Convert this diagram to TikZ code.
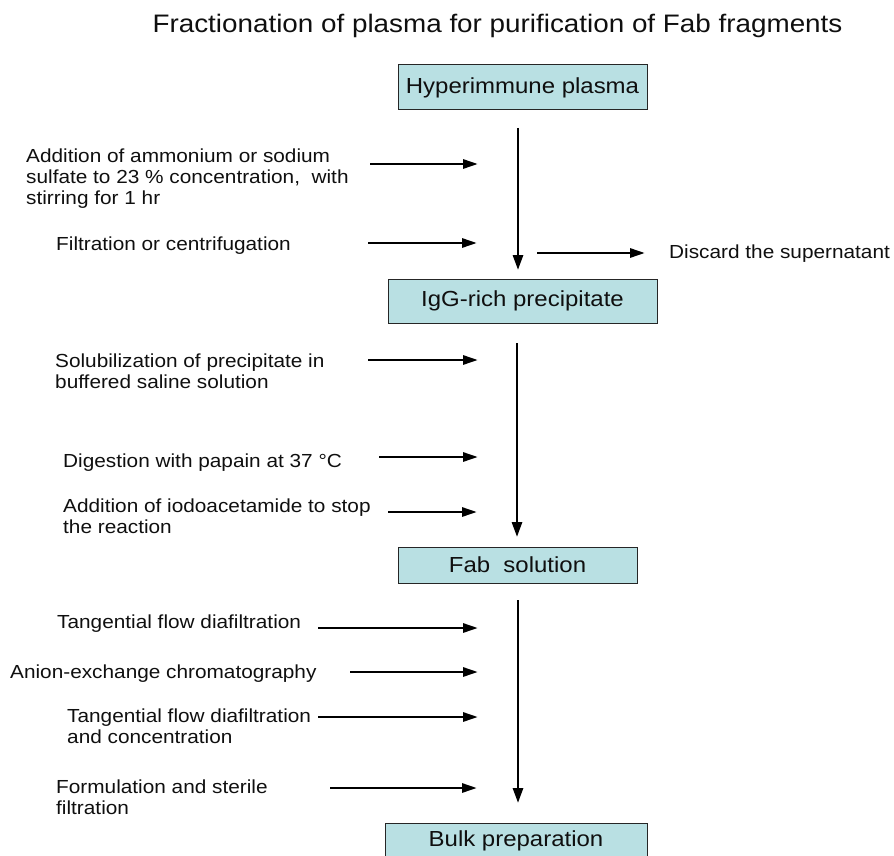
\documentclass[tikz,border=0pt]{standalone}
\usepackage{fontspec}
\setmainfont{Liberation Sans}[FakeStretch=1.1]
\usetikzlibrary{arrows.meta}
\definecolor{boxfill}{RGB}{185,224,227}
\definecolor{txt}{RGB}{15,15,15}
\newcommand{\mlines}[1]{\begin{tabular}[t]{@{}l@{}}#1\end{tabular}}
\begin{document}
\begin{tikzpicture}[x=1pt,y=-1pt,
  box/.style={draw=black!85, line width=1pt, fill=boxfill, inner sep=0pt,
    font=\fontsize{21.8}{24}\selectfont, text=txt},
  lbl/.style={anchor=base west, inner sep=0pt, text=txt,
    font=\fontsize{18.9}{21.5}\selectfont},
  ttl/.style={anchor=base, inner sep=0pt, text=txt,
    font=\fontsize{25.3}{28}\selectfont},
  flow/.style={line width=2.8pt, -{Triangle[length=15pt,width=10pt]}},
  side/.style={line width=2.8pt, -{Triangle[length=15pt,width=9pt]}}]
\useasboundingbox (0,0) rectangle (894,856);
\clip (0,0) rectangle (894,856);

\node[ttl] (title) at (497.5,33) {Fractionation of plasma for purification of Fab fragments};

% boxes
\node[box, minimum width=249, minimum height=45] (b1) at (522.5,87.5) {Hyperimmune plasma};
\node[box, minimum width=269, minimum height=44] (b2) at (522.5,301) {IgG-rich precipitate};
\node[box, minimum width=239, minimum height=36] (b3) at (517.5,565) {Fab\ \ solution};
\node[box, minimum width=262, minimum height=36] (b4) at (516,841) {Bulk preparation};

% main vertical arrows
\coordinate (v1s) at (518,128); \coordinate (v1e) at (518,270);
\coordinate (v2s) at (517,343); \coordinate (v2e) at (517,537);
\coordinate (v3s) at (518,600); \coordinate (v3e) at (518,803);
\draw[flow] (v1s) -- (v1e);
\draw[flow] (v2s) -- (v2e);
\draw[flow] (v3s) -- (v3e);

% side labels
\node[lbl] (l1) at (26,162) {\mlines{Addition of ammonium or sodium\\ sulfate to 23 \% concentration,\ \ with\\ stirring for 1 hr}};
\node[lbl] (l2) at (56,250) {Filtration or centrifugation};
\node[lbl] (l3) at (55,367) {\mlines{Solubilization of precipitate in\\ buffered saline solution}};
\node[lbl] (l4) at (63,467) {Digestion with papain at 37 °C};
\node[lbl] (l5) at (63,512) {\mlines{Addition of iodoacetamide to stop\\ the reaction}};
\node[lbl] (l6) at (57,628) {Tangential flow diafiltration};
\node[lbl] (l7) at (10,678) {Anion-exchange chromatography};
\node[lbl] (l8) at (67,722) {\mlines{Tangential flow diafiltration\\ and concentration}};
\node[lbl] (l9) at (56,793) {\mlines{Formulation and sterile\\ filtration}};
\node[lbl] (ld) at (669,258) {Discard the supernatant};

% side arrows
\coordinate (s1) at (370,164); \coordinate (e1) at (478,164);
\coordinate (s2) at (368,243); \coordinate (e2) at (477,243);
\coordinate (s3) at (368,360); \coordinate (e3) at (478,360);
\coordinate (s4) at (379,457); \coordinate (e4) at (478,457);
\coordinate (s5) at (388,512); \coordinate (e5) at (477,512);
\coordinate (s6) at (318,628); \coordinate (e6) at (478,628);
\coordinate (s7) at (350,672); \coordinate (e7) at (478,672);
\coordinate (s8) at (318,717); \coordinate (e8) at (478,717);
\coordinate (s9) at (330,788); \coordinate (e9) at (477,788);
\coordinate (sd) at (537,253); \coordinate (ed) at (645,253);
\foreach \i in {1,...,9,d} { \draw[side] (s\i) -- (e\i); }
\end{tikzpicture}
\end{document}
